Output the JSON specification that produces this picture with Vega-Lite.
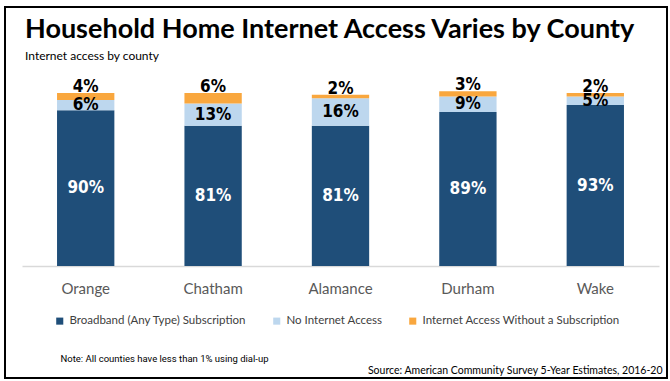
{
  "$schema": "https://vega.github.io/schema/vega-lite/v6.json",
  "width": 662,
  "height": 371,
  "autosize": {"type": "none"},
  "padding": {"left": 5, "top": 7, "right": 3, "bottom": 3},
  "background": "white",
  "config": {
    "view": {"stroke": "#000000", "strokeWidth": 2},
    "font": "Lato"
  },
  "title": {
    "text": "Household Home Internet Access Varies by County",
    "subtitle": "Internet access by county",
    "anchor": "start",
    "frame": "group",
    "orient": "top",
    "offset": -56,
    "dx": 20,
    "font": "Lato",
    "fontSize": 27,
    "fontWeight": "bold",
    "color": "#000000",
    "subtitleFont": "Lato",
    "subtitleFontSize": 12,
    "subtitleColor": "#000000",
    "subtitlePadding": 7
  },
  "data": {
    "values": [
      {"county": "Orange", "type": "Broadband (Any Type) Subscription", "ord": 1, "value": 90},
      {"county": "Orange", "type": "No Internet Access", "ord": 2, "value": 6},
      {"county": "Orange", "type": "Internet Access Without a Subscription", "ord": 3, "value": 4},
      {"county": "Chatham", "type": "Broadband (Any Type) Subscription", "ord": 1, "value": 81},
      {"county": "Chatham", "type": "No Internet Access", "ord": 2, "value": 13},
      {"county": "Chatham", "type": "Internet Access Without a Subscription", "ord": 3, "value": 6},
      {"county": "Alamance", "type": "Broadband (Any Type) Subscription", "ord": 1, "value": 81},
      {"county": "Alamance", "type": "No Internet Access", "ord": 2, "value": 16},
      {"county": "Alamance", "type": "Internet Access Without a Subscription", "ord": 3, "value": 2},
      {"county": "Durham", "type": "Broadband (Any Type) Subscription", "ord": 1, "value": 89},
      {"county": "Durham", "type": "No Internet Access", "ord": 2, "value": 9},
      {"county": "Durham", "type": "Internet Access Without a Subscription", "ord": 3, "value": 3},
      {"county": "Wake", "type": "Broadband (Any Type) Subscription", "ord": 1, "value": 93},
      {"county": "Wake", "type": "No Internet Access", "ord": 2, "value": 5},
      {"county": "Wake", "type": "Internet Access Without a Subscription", "ord": 3, "value": 2}
    ]
  },
  "transform": [
    {"stack": "value", "groupby": ["county"], "sort": [{"field": "ord", "order": "ascending"}], "as": ["y0", "y1"]},
    {"calculate": "(datum.y0 + datum.y1) / 2", "as": "ymid"},
    {"calculate": "datum.value + '%'", "as": "label"}
  ],
  "encoding": {
    "x": {
      "field": "county",
      "type": "nominal",
      "sort": ["Orange", "Chatham", "Alamance", "Durham", "Wake"],
      "scale": {"range": [17, 654], "paddingInner": 0.55, "paddingOuter": 0.275},
      "axis": {
        "orient": "bottom",
        "offset": -112,
        "grid": false,
        "ticks": false,
        "domainColor": "#d9d9d9",
        "domainWidth": 1.5,
        "labelAngle": 0,
        "labelFont": "Lato",
        "labelFontSize": 15,
        "labelColor": "#595959",
        "labelPadding": 15,
        "title": "Source: American Community Survey 5-Year Estimates, 2016-20",
        "titleX": 657,
        "titleY": 104,
        "titleAlign": "right",
        "titleAnchor": null,
        "titleBaseline": "middle",
        "titleFont": "Lato",
        "titleFontSize": 10.5,
        "titleFontWeight": "normal",
        "titleColor": "#000000"
      }
    },
    "y": {
      "type": "quantitative",
      "scale": {"domain": [0, 100], "range": [259, 86], "nice": false, "zero": true},
      "axis": {
        "grid": false,
        "ticks": false,
        "labels": false,
        "domain": true,
        "domainOpacity": 0,
        "title": "Note: All counties have less than 1% using dial-up",
        "titleAngle": 0,
        "titleX": 55,
        "titleY": 351,
        "titleAlign": "left",
        "titleAnchor": null,
        "titleBaseline": "middle",
        "titleFont": "Roboto",
        "titleFontSize": 9.5,
        "titleFontWeight": "normal",
        "titleColor": "#000000"
      }
    }
  },
  "layer": [
    {
      "mark": {"type": "bar"},
      "encoding": {
        "y": {"field": "y0"},
        "y2": {"field": "y1"},
        "color": {
          "field": "type",
          "type": "nominal",
          "scale": {
            "domain": ["Broadband (Any Type) Subscription", "No Internet Access", "Internet Access Without a Subscription"],
            "range": ["#1f4e79", "#bdd7ee", "#f9a73e"]
          },
          "legend": {
            "orient": "none",
            "legendX": 49,
            "legendY": 308,
            "direction": "horizontal",
            "title": null,
            "symbolType": "square",
            "symbolSize": 50,
            "symbolStrokeWidth": 0,
            "labelFont": "Lato",
            "labelFontSize": 11.5,
            "labelColor": "#404040",
            "labelOffset": 4,
            "labelLimit": 0,
            "columnPadding": 24
          }
        }
      }
    },
    {
      "transform": [{"filter": "datum.ord == 1"}],
      "mark": {"type": "text", "font": "DejaVu Sans Condensed, Roboto", "fontWeight": "bold", "fontSize": 17, "color": "#ffffff", "baseline": "middle"},
      "encoding": {
        "y": {"field": "ymid"},
        "text": {"field": "label"}
      }
    },
    {
      "transform": [{"filter": "datum.ord == 2"}],
      "mark": {"type": "text", "font": "DejaVu Sans Condensed, Roboto", "fontWeight": "bold", "fontSize": 17, "color": "#000000", "baseline": "middle"},
      "encoding": {
        "y": {"field": "ymid"},
        "text": {"field": "label"}
      }
    },
    {
      "transform": [{"filter": "datum.ord == 3"}],
      "mark": {"type": "text", "font": "DejaVu Sans Condensed, Roboto", "fontWeight": "bold", "fontSize": 17, "color": "#000000", "baseline": "alphabetic", "dy": -1},
      "encoding": {
        "y": {"field": "y1"},
        "text": {"field": "label"}
      }
    }
  ]
}
